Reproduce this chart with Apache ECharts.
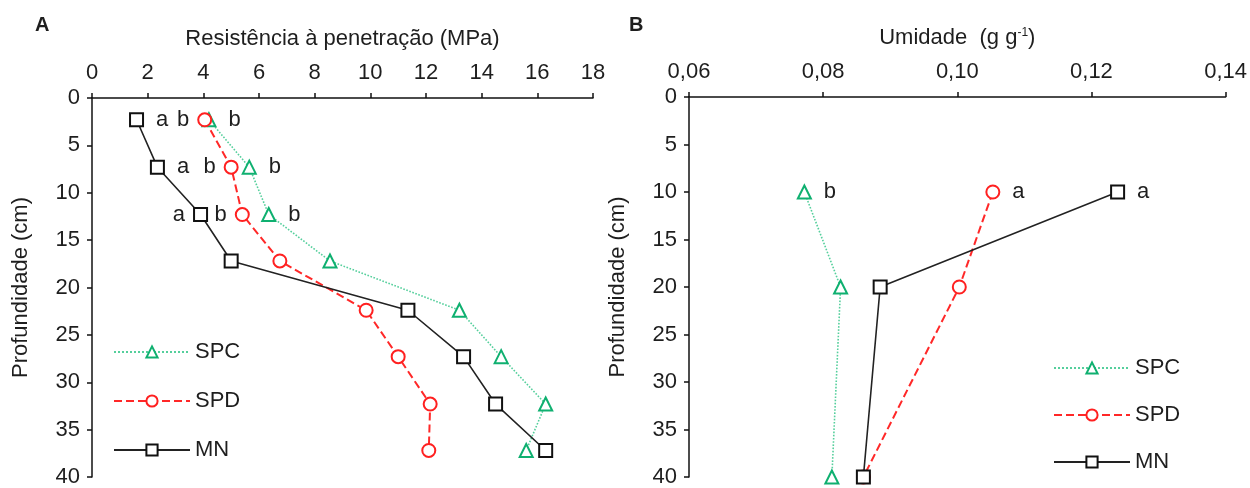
<!DOCTYPE html>
<html>
<head>
<meta charset="utf-8">
<script src="https://cdn.jsdelivr.net/npm/echarts@6/dist/echarts.min.js"></script>
<style>
  html, body { margin: 0; padding: 0; background: #fff; }
  #chart { width: 1250px; height: 488px; }
</style>
</head>
<body>
<div id="chart"></div>
<script>
// painel A - resistencia a penetracao
var depthA = [2.3, 7.3, 12.3, 17.2, 22.4, 27.3, 32.3, 37.2];
var spcA = [4.2, 5.65, 6.35, 8.55, 13.2, 14.7, 16.3, 15.6];
var spdA = [4.05, 5.0, 5.4, 6.75, 9.85, 11.0, 12.15, 12.1];
var mnA = [1.6, 2.35, 3.9, 5.0, 11.35, 13.35, 14.5, 16.3];
var letSpcA = ['b', 'b', 'b', '', '', '', '', ''];
var letSpdA = ['b', 'b', 'b', '', '', '', '', ''];
var letMnA = ['a', 'a', 'a', '', '', '', '', ''];

// painel B - umidade
var depthB = [10, 20, 40];
var spcB = [0.0772, 0.0826, 0.0813];
var spdB = [0.1053, 0.1003, 0.086];
var mnB = [0.1239, 0.0885, 0.086];
var letSpcB = ['b', '', ''];
var letSpdB = ['a', '', ''];
var letMnB = ['a', '', ''];

var legendNames = ['SPC', 'SPD', 'MN'];

var font = 'Liberation Sans, Arial, sans-serif';
var txt = '#1e1e1e';
var fs = 22;

function pts(xs, ys, letters, pos) {
  return xs.map(function (x, i) {
    var p = typeof pos === 'function' ? pos(i) : pos;
    return {
      value: [x, ys[i]],
      label: {
        show: letters[i] !== '',
        formatter: letters[i],
        position: p,
        distance: p === 'left' ? 8 : 12,
        color: txt,
        fontSize: fs,
        fontFamily: font
      }
    };
  });
}

function yAx(gi) {
  return {
    gridIndex: gi,
    type: 'value',
    inverse: true,
    min: 0,
    max: 40,
    interval: 5,
    name: 'Profundidade (cm)',
    nameLocation: 'middle',
    nameRotate: 90,
    nameGap: 60,
    nameTextStyle: { color: txt, fontSize: fs, fontFamily: font },
    axisLine: { show: true, lineStyle: { color: '#111', width: 1.5 } },
    axisTick: { show: true, length: 5, lineStyle: { color: '#111', width: 1.5 } },
    axisLabel: { color: txt, fontSize: fs, fontFamily: font, margin: 12 },
    splitLine: { show: false }
  };
}

var spcStyle = {
  symbol: 'emptyTriangle', symbolSize: 13,
  itemStyle: { color: '#0fb070', borderWidth: 2 },
  lineStyle: { color: '#55cf9c', type: 'dotted', width: 1.6 }
};
var spdStyle = {
  symbol: 'emptyCircle', symbolSize: 13,
  itemStyle: { color: '#ff2020', borderWidth: 1.8 },
  lineStyle: { color: '#ff2828', type: 'dashed', width: 2 }
};
var mnStyle = {
  symbol: 'emptyRect', symbolSize: 13,
  itemStyle: { color: '#111', borderWidth: 1.8 },
  lineStyle: { color: '#222', type: 'solid', width: 1.6 }
};

function line(name, gi, data, st) {
  return Object.assign({
    name: name,
    type: 'line',
    xAxisIndex: gi,
    yAxisIndex: gi,
    data: data,
    z: name === 'MN' ? 4 : 3
  }, st);
}

var chart = echarts.init(document.getElementById('chart'));
var option = {
  animation: false,
  textStyle: { fontFamily: font },
  title: [
    { text: 'A', left: 30, top: 10, textStyle: { fontSize: 20, fontWeight: 'bold', color: txt, fontFamily: font } },
    { text: 'B', left: 624, top: 10, textStyle: { fontSize: 20, fontWeight: 'bold', color: txt, fontFamily: font } }
  ],
  grid: [
    { left: 92, top: 98, width: 501, height: 379 },
    { left: 689, top: 97, width: 543, height: 383 }
  ],
  legend: [
    {
      data: legendNames, orient: 'vertical', left: 108, top: 336,
      itemWidth: 76, itemHeight: 14, itemGap: 27,
      textStyle: { color: txt, fontSize: fs, fontFamily: font }
    },
    {
      data: legendNames, orient: 'vertical', left: 1048, top: 352,
      itemWidth: 76, itemHeight: 14, itemGap: 25,
      textStyle: { color: txt, fontSize: fs, fontFamily: font }
    }
  ],
  xAxis: [
    {
      gridIndex: 0, type: 'value', position: 'top', min: 0, max: 18, interval: 2,
      name: 'Resistência à penetração (MPa)', nameLocation: 'middle', nameGap: 48,
      nameTextStyle: { color: txt, fontSize: fs, fontFamily: font },
      axisLine: { lineStyle: { color: '#111', width: 1.5 } },
      axisTick: { show: true, length: 5, lineStyle: { color: '#111', width: 1.5 } },
      axisLabel: { color: txt, fontSize: fs, fontFamily: font, margin: 14 },
      splitLine: { show: false }
    },
    {
      gridIndex: 1, type: 'value', position: 'top', min: 0.06, max: 0.14, interval: 0.02,
      name: '{t|Umidade  (g g}{s|-1}{t|)}', nameLocation: 'middle', nameGap: 48,
      nameTextStyle: {
        color: txt, fontSize: fs, fontFamily: font,
        rich: {
          t: { fontSize: fs, color: txt, fontFamily: font },
          s: { fontSize: 12, color: txt, fontFamily: font, verticalAlign: 'top', padding: [0, 0, 10, 0] }
        }
      },
      axisLine: { lineStyle: { color: '#111', width: 1.5 } },
      axisTick: { show: true, length: 5, lineStyle: { color: '#111', width: 1.5 } },
      axisLabel: {
        color: txt, fontSize: fs, fontFamily: font, margin: 14,
        formatter: function (v) { return v.toFixed(2).replace('.', ','); }
      },
      splitLine: { show: false }
    }
  ],
  yAxis: [yAx(0), yAx(1)],
  series: [
    line('SPC', 0, pts(spcA, depthA, letSpcA, 'right'), spcStyle),
    line('SPD', 0, pts(spdA, depthA, letSpdA, 'left'), spdStyle),
    line('MN', 0, pts(mnA, depthA, letMnA, function (i) { return i === 2 ? 'left' : 'right'; }), mnStyle),
    line('SPC', 1, pts(spcB, depthB, letSpcB, 'right'), spcStyle),
    line('SPD', 1, pts(spdB, depthB, letSpdB, 'right'), spdStyle),
    line('MN', 1, pts(mnB, depthB, letMnB, 'right'), mnStyle)
  ]
};
chart.setOption(option);
</script>
</body>
</html>
